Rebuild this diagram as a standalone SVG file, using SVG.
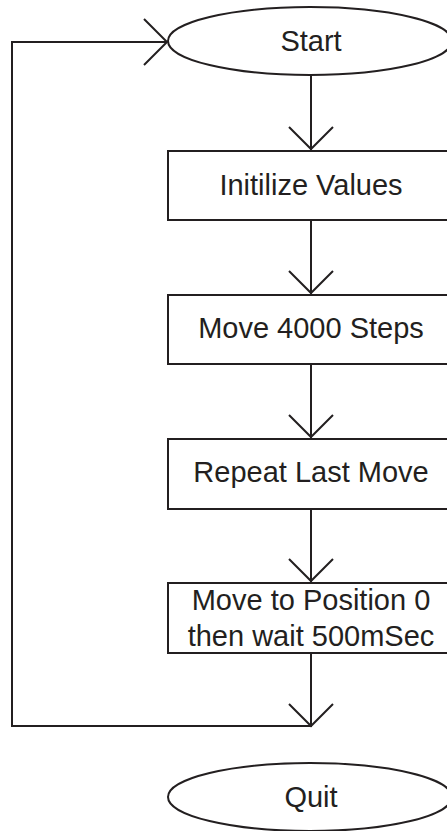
<svg xmlns="http://www.w3.org/2000/svg" width="447" height="831" viewBox="0 0 447 831">
<style>
.s{fill:#fff;stroke:#231f20;stroke-width:2}
.c{fill:none;stroke:#231f20;stroke-width:2}
.t{font-family:"Liberation Sans",Arial,sans-serif;font-size:29px;fill:#231f20;text-anchor:middle}
</style>
<rect width="447" height="831" fill="#fff"/>
<g id="connectors" class="c">
<polyline points="311,76 311,150"/>
<polyline points="289,127 311,149 333,127"/>
<polyline points="311,220 311,294"/>
<polyline points="289,271 311,293 333,271"/>
<polyline points="311,364 311,438"/>
<polyline points="289,415 311,437 333,415"/>
<polyline points="311,509 311,582"/>
<polyline points="289,559 311,581 333,559"/>
<polyline points="311,653 311,726 12,726 12,42 167,42"/>
<polyline points="289,704 311,726 333,704"/>
<polyline points="144,19 167,42 144,65"/>
</g>
<g id="start"><ellipse class="s" cx="310" cy="41" rx="142" ry="34"/><text class="t" x="311" y="51">Start</text></g>
<g id="init"><rect class="s" x="168" y="151" width="290" height="69"/><text class="t" x="311" y="195">Initilize Values</text></g>
<g id="move4000"><rect class="s" x="168" y="295" width="290" height="69"/><text class="t" x="311" y="338">Move 4000 Steps</text></g>
<g id="repeat"><rect class="s" x="168" y="439" width="290" height="70"/><text class="t" x="311" y="482">Repeat Last Move</text></g>
<g id="moveto0"><rect class="s" x="168" y="583" width="290" height="70"/><text class="t" x="311" y="610">Move to Position 0</text><text class="t" x="311" y="646">then wait 500mSec</text></g>
<g id="quit"><ellipse class="s" cx="310" cy="797" rx="142" ry="34"/><text class="t" x="311" y="807">Quit</text></g>
</svg>
